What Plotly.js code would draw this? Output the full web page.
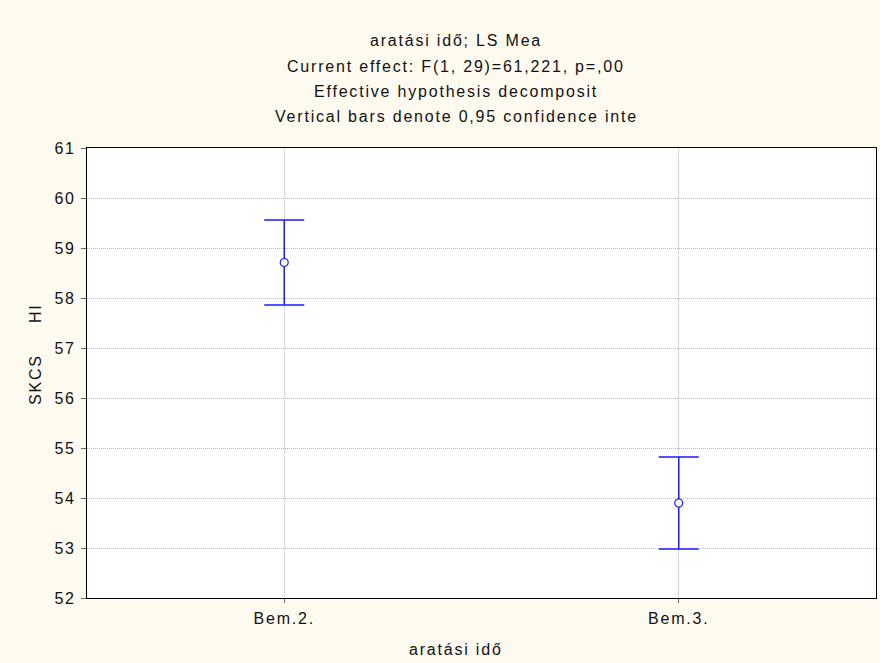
<!DOCTYPE html>
<html>
<head>
<meta charset="utf-8">
<script src="https://cdn.plot.ly/plotly-3.0.1.min.js"></script>
<style>
html,body{margin:0;padding:0;background:#FFFAF0;}
#chart{width:880px;height:663px;}
svg text{letter-spacing:1.8px;}
</style>
</head>
<body>
<div id="chart"></div>
<script>
var categories = ["Bem.2.", "Bem.3."];
var means = [58.71, 53.90];
var ciHalf = [0.85, 0.92];
var yTicks = [52, 53, 54, 55, 56, 57, 58, 59, 60, 61];
var titleLines = [
  "aratási idő; LS Mea",
  "Current effect: F(1, 29)=61,221, p=,00",
  "Effective hypothesis decomposit",
  "Vertical bars denote 0,95 confidence inte"
];
var xTitle = "aratási idő";
var yTitle = "SKCS     HI";

var font = {family: "Liberation Sans, Arial, sans-serif", size: 16, color: "#111"};
var tickFontY = {family: "Liberation Sans, Arial, sans-serif", size: 16, color: "#111"};

var trace = {
  type: "scatter",
  mode: "markers",
  x: categories,
  y: means,
  marker: {symbol: "circle", size: 8, color: "#ffffff", line: {width: 1.2, color: "#1a1aff"}},
  error_y: {type: "data", array: ciHalf, visible: true, color: "#1a1aff", thickness: 1.5, width: 20},
  showlegend: false,
  hoverinfo: "x+y"
};

var annotations = titleLines.map(function(t, i) {
  return {text: t, xref: "paper", yref: "paper", x: (456 - 87) / (876 - 87),
    y: 1 + (148 - (41 + 25.3 * i)) / 450, xanchor: "center", yanchor: "middle",
    showarrow: false, font: font};
});
annotations.push({text: xTitle, xref: "paper", yref: "paper", x: (456 - 87) / (876 - 87),
  y: -(649 - 598) / 450, xanchor: "center", yanchor: "middle", showarrow: false, font: font});
annotations.push({text: yTitle, xref: "paper", yref: "paper", x: -(87 - 35) / (876 - 87),
  y: (598 - 354) / 450, xanchor: "center", yanchor: "middle", textangle: -90, showarrow: false, font: font});

var layout = {
  width: 880, height: 663,
  margin: {l: 87, r: 4, t: 148, b: 65, pad: 0},
  paper_bgcolor: "#FFFAF0",
  plot_bgcolor: "#FFFFFF",
  font: font,
  xaxis: {
    type: "category", range: [-0.5, 1.5],
    showline: true, linecolor: "#000", linewidth: 1, mirror: true,
    showgrid: true, gridcolor: "#bdbdbd", griddash: "1px,1px", gridwidth: 1,
    ticks: "outside", ticklen: 4, tickcolor: "#666", tickfont: font,
    ticklabelstandoff: 2,
    zeroline: false, fixedrange: true
  },
  yaxis: {
    range: [52, 61], tickvals: yTicks, ticktext: yTicks.map(String),
    showline: true, linecolor: "#000", linewidth: 1, mirror: true,
    showgrid: true, gridcolor: "#bdbdbd", griddash: "1px,1px", gridwidth: 1,
    ticks: "outside", ticklen: 5, tickcolor: "#666", tickfont: tickFontY,
    ticklabelstandoff: 2,
    zeroline: false, fixedrange: true
  },
  annotations: annotations
};

Plotly.newPlot("chart", [trace], layout, {displayModeBar: false, staticPlot: true});
</script>
</body>
</html>
